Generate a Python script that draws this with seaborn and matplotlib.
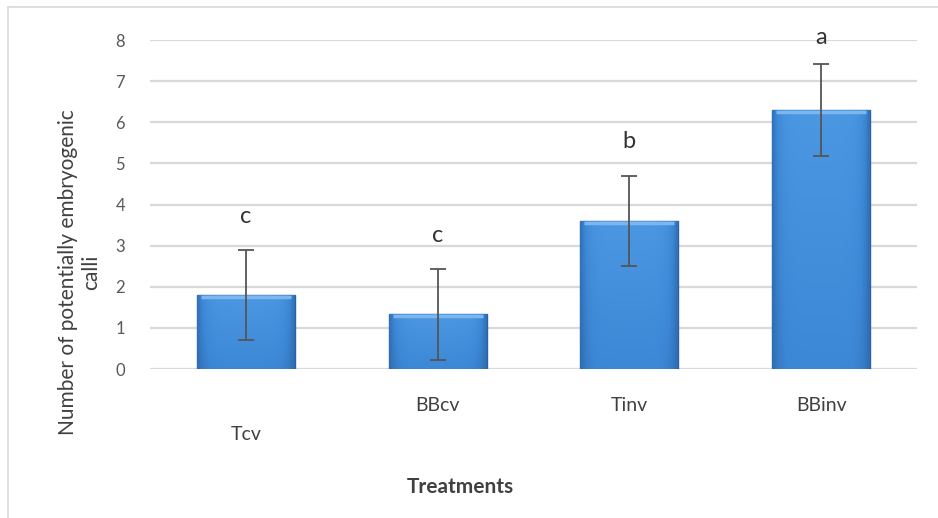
import numpy as np
import pandas as pd
import matplotlib
matplotlib.use("Agg")
import matplotlib.pyplot as plt
import matplotlib.transforms as mtransforms
from matplotlib.lines import Line2D
from matplotlib.colors import LinearSegmentedColormap
import seaborn as sns

# Data
treatments = ["Tcv", "BBcv", "Tinv", "BBinv"]
means = [1.8, 1.33, 3.6, 6.3]
errors = [1.1, 1.1, 1.1, 1.12]
letters = ["c", "c", "b", "a"]
y_ticks = [0, 1, 2, 3, 4, 5, 6, 7, 8]

df = pd.DataFrame({"treatment": treatments, "mean": means})

sns.set_theme(style="white")
plt.rcParams["font.family"] = ["Lato", "DejaVu Sans"]

fig = plt.figure(figsize=(9.38, 5.18), dpi=100)
ax = fig.add_axes([150 / 938, 1 - 369 / 518, (917 - 150) / 938, (369 - 40) / 518])

sns.barplot(data=df, x="treatment", y="mean", color="#3c87d4", width=0.51,
            edgecolor="#2c629f", linewidth=1.0, ax=ax, zorder=3)

# bevelled gradient fill on each bar
grad_cmap = LinearSegmentedColormap.from_list("bar", ["#2f6cb2", "#3d88d6", "#4c97e2"])
for patch in ax.patches:
    x0, y0 = patch.get_x(), patch.get_y()
    w, h = patch.get_width(), patch.get_height()
    xs = np.linspace(-1, 1, 60)
    ys = np.linspace(0, 1, 100)
    horiz = 1 - np.abs(xs) ** 6 * 0.8
    vert = 0.55 + 0.45 * ys
    img = np.outer(vert, horiz)
    im = ax.imshow(img, extent=[x0, x0 + w, y0, y0 + h], origin="lower",
                   cmap=grad_cmap, vmin=0.1, vmax=1.0, aspect="auto", zorder=3.5)
    im.set_clip_path(patch)
    # light strip along the top
    ax.plot([x0 + w * 0.04, x0 + w * 0.96], [y0 + h - 0.05, y0 + h - 0.05],
            color="#7bb6ee", lw=2.5, zorder=3.6, solid_capstyle="butt")

ax.errorbar(range(len(treatments)), means, yerr=errors, fmt="none",
            ecolor="#555555", elinewidth=1.3, capsize=6, capthick=1.3, zorder=5)

for i, (m, e, lab) in enumerate(zip(means, errors, letters)):
    ax.text(i, min(m + e + 0.82, 8.05), lab, ha="center", va="center",
            fontsize=17, color="#333333", zorder=6, clip_on=False)

ax.set_ylim(0, 8)
ax.set_xlim(-0.5, len(treatments) - 0.5)
ax.set_yticks(y_ticks)
ax.yaxis.grid(True, color="#d9d9d9", linewidth=1.6, zorder=0)
ax.set_axisbelow(True)
for s in ax.spines.values():
    s.set_visible(False)

ax.tick_params(axis="y", length=0, pad=18, labelsize=12, labelcolor="#595959")
ax.tick_params(axis="x", length=0, pad=20, labelsize=14, labelcolor="#404040")
ax.set_xlabel("")
ax.set_ylabel("")

# first category label sits lower in the original
lbl = ax.get_xticklabels()[0]
lbl.set_transform(lbl.get_transform() + mtransforms.ScaledTranslation(0, -29 / 100, fig.dpi_scale_trans))

fig.text(80 / 938, 1 - 272 / 518, "Number of potentially embryogenic\ncalli",
         rotation=90, ha="center", va="center", multialignment="center",
         fontsize=15, color="#404040")
fig.text(460 / 938, 1 - 487 / 518, "Treatments", ha="center", va="center",
         fontsize=15, fontweight="bold", color="#404040")

# faint chart-area frame (top and left edges visible)
fig.add_artist(Line2D([8 / 938, 8 / 938], [0, 1 - 7 / 518], transform=fig.transFigure,
                      color="#d9d9d9", lw=1.2))
fig.add_artist(Line2D([8 / 938, 1], [1 - 7 / 518, 1 - 7 / 518], transform=fig.transFigure,
                      color="#d9d9d9", lw=1.2))

fig.savefig("out.png", dpi=100)
